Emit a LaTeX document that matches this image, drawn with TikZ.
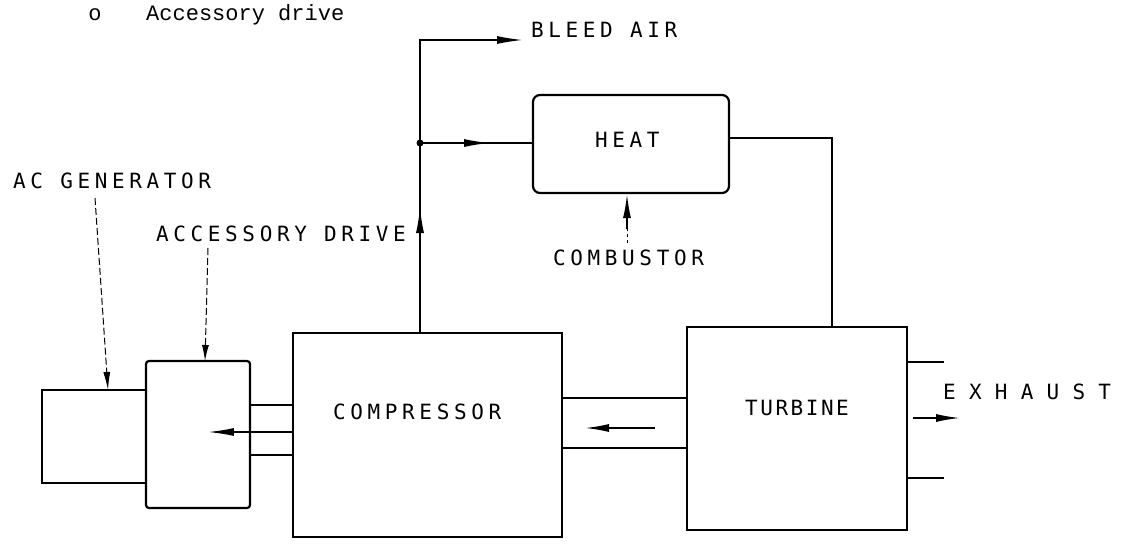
\documentclass[tikz,border=0pt]{standalone}
\usepackage{fontspec}
\usetikzlibrary{arrows.meta}
\newfontfamily\labfont{DejaVu Sans Mono}
\newfontfamily\typefont{Liberation Mono}
\begin{document}
\begin{tikzpicture}[x=1pt,y=-1pt,
  >={Latex[length=26pt,width=8pt]},
  box/.style={draw, line width=2.2pt, inner sep=0pt},
  conn/.style={line width=1.6pt},
  lead/.style={line width=1pt, dash pattern=on 7pt off 3pt},
  lab/.style={font={\labfont\fontsize{21}{24}\selectfont\addfontfeatures{LetterSpace=#1}}, inner sep=0pt, anchor=west},
  lab/.default=22
]
\useasboundingbox (0,0) rectangle (1129,552);

% boxes
\node[box, minimum width=104pt, minimum height=93pt] (acgen) at (94,436.5) {};
\node[box, rounded corners=3pt, minimum width=104pt, minimum height=147pt] (accdrv) at (198,434.5) {};
\node[box, minimum width=269pt, minimum height=204pt] (comp) at (427.5,435) {};
\node[box, minimum width=220pt, minimum height=203pt] (turb) at (797,428.5) {};
\node[box, rounded corners=7pt, minimum width=196pt, minimum height=98pt] (heat) at (631,144) {};

% texts
\node[inner sep=0pt, font={\typefont\fontsize{22}{24}\selectfont}, anchor=base] (bul) at (95,20) {o};
\node[inner sep=0pt, font={\typefont\fontsize{22}{24}\selectfont}, anchor=base west] (head) at (146,20) {Accessory drive};
\node[lab] (tbleed) at (531,30) {BLEED AIR};
\node[lab] (tacgen) at (13,181) {AC GENERATOR};
\node[lab] (tacc) at (156,234) {ACCESSORY DRIVE};
\node[lab] (tcomb) at (553,258) {COMBUSTOR};
\node[lab] (theat) at (595,140) {HEAT};
\node[lab] (tcomp) at (333,412) {COMPRESSOR};
\node[lab=12] (tturb) at (745,408) {TURBINE};
\node[lab=63] (texh) at (943,392) {EXHAUST};

% coordinates
\coordinate (j) at (420,143);
\coordinate (bt) at (523,40);
\coordinate (ua) at (420,235);
\coordinate (ha) at (462,143);
\coordinate (hr) at (832,138);
\coordinate (cb) at (627,243);
\coordinate (cb2) at (627,229);
\coordinate (l1) at (95,198);
\coordinate (l1e) at (108,390);
\coordinate (l2) at (208,248);
\coordinate (l2e) at (205,361);
\coordinate (sa) at (655,428);
\coordinate (ea) at (913,418);

% bleed air / heat feed
\draw[conn] (j |- comp.north) -- (j);
\draw[conn,->] (j) |- (bt);
\fill (j) circle (3.5pt);
\draw[conn,->] (ua) -- ++(0,-28);
\draw[conn] (j) -- (j -| heat.west);
\draw[conn,->] (ha) -- ++(28,0);
\draw[conn] (heat.east |- hr) -| (hr |- turb.north);

% combustor
\draw[line width=1pt, dash pattern=on 3pt off 3pt] (cb) -- (cb2);
\draw[conn,-{Latex[length=24pt,width=8pt]}] (cb2) -- (cb2 |- heat.south);

% leaders
\draw[lead,-{Latex[length=18pt,width=7pt]}] (l1) -- (l1e);
\draw[lead,-{Latex[length=16pt,width=7pt]}] (l2) -- (l2e);

% shaft compressor -> accessory drive
\draw[conn] (accdrv.east |- 0,405) -- (comp.west |- 0,405);
\draw[conn] (accdrv.east |- 0,455) -- (comp.west |- 0,455);
\draw[conn,->] (comp.west |- 0,432) -- ++(-84,0);

% shaft turbine -> compressor
\draw[conn] (comp.east |- 0,398) -- (turb.west |- 0,398);
\draw[conn] (comp.east |- 0,448) -- (turb.west |- 0,448);
\draw[conn,-{Latex[length=24pt,width=8pt]}] (sa) -- ++(-70,0);

% exhaust
\draw[conn] (turb.east |- 0,362) -- ++(36,0);
\draw[conn] (turb.east |- 0,478) -- ++(36,0);
\draw[conn,-{Latex[length=24pt,width=8pt]}] (ea) -- ++(47,0);
\end{tikzpicture}
\end{document}
